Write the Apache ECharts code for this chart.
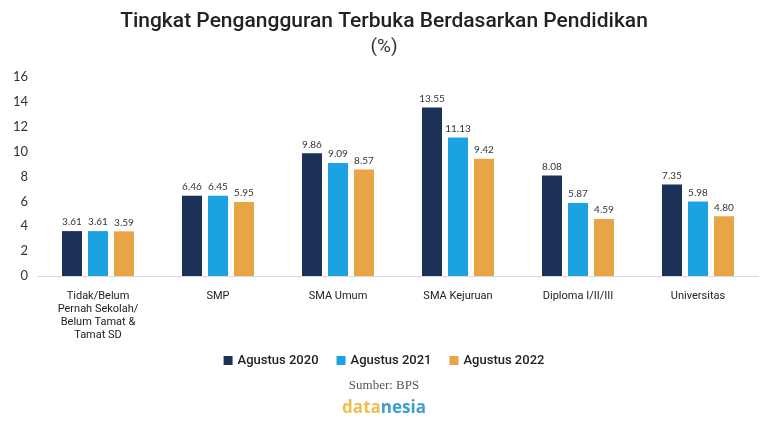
<!DOCTYPE html>
<html><head><meta charset="utf-8">
<script src="https://cdn.jsdelivr.net/npm/echarts@6/dist/echarts.min.js"></script>
<style>html,body{margin:0;padding:0;background:#fff}#c{width:768px;height:426px}</style>
</head><body><div id="c"></div>
<script>
const categories = ['Tidak/Belum\nPernah Sekolah/\nBelum Tamat &\nTamat SD','SMP','SMA Umum','SMA Kejuruan','Diploma I/II/III','Universitas'];
const seriesNames = ['Agustus 2020','Agustus 2021','Agustus 2022'];
const ags2020 = [3.61, 6.46, 9.86, 13.55, 8.08, 7.35];
const ags2021 = [3.61, 6.45, 9.09, 11.13, 5.87, 5.98];
const ags2022 = [3.59, 5.95, 8.57, 9.42, 4.59, 4.80];
const colors = ['#1b3157', '#1ba3e1', '#e9a445'];
const chart = echarts.init(document.getElementById('c'));
const mk = (name, data, color) => ({
  name, type: 'bar', data, barWidth: 20, barGap: '30%',
  itemStyle: {color},
  label: {show: true, position: 'top', distance: 4, fontSize: 10, color: '#333', fontFamily: 'Lato',
    formatter: p => p.value.toFixed(2)}
});
chart.setOption({
  animation: false,
  title: [{
    text: 'Tingkat Pengangguran Terbuka Berdasarkan Pendidikan', left: 'center', top: 6,
    textStyle: {fontFamily: 'Roboto', fontWeight: 500, fontSize: 21, color: '#222'}
  },{
    text: '(%)', left: 'center', top: 33,
    textStyle: {fontFamily: 'Roboto', fontWeight: 'normal', fontSize: 19, color: '#333'}
  },{
    text: 'Sumber: BPS', left: 'center', top: 374,
    textStyle: {fontFamily: 'Liberation Serif', fontWeight: 'normal', fontSize: 13, color: '#555'}
  },{
    text: '{a|data}{b|nesia}', left: 'center', top: 395,
    textStyle: {rich: {
      a: {fontFamily: 'Open Sans', fontWeight: 'bold', fontSize: 17, color: '#eac14f'},
      b: {fontFamily: 'Open Sans', fontWeight: 'bold', fontSize: 17, color: '#3c9fcc'}
    }}
  }],
  legend: {
    data: seriesNames, top: 349, left: 'center', itemWidth: 9, itemHeight: 9, itemGap: 18,
    icon: 'rect',
    textStyle: {fontFamily: 'Roboto', fontWeight: 500, fontSize: 13, color: '#222'}
  },
  grid: {left: 38, right: 10, top: 77, bottom: 150, containLabel: false},
  xAxis: {
    type: 'category', data: categories,
    axisLine: {lineStyle: {color: '#d9d9d9'}},
    axisTick: {show: false},
    axisLabel: {interval: 0, fontFamily: 'Roboto', fontSize: 11, color: '#222', lineHeight: 13, margin: 14}
  },
  yAxis: {
    type: 'value', min: 0, max: 16, interval: 2,
    splitLine: {show: false},
    axisLabel: {fontFamily: 'Lato', fontSize: 13, color: '#333', margin: 10, align: 'right'},
    axisLine: {show: false}, axisTick: {show: false}
  },
  series: [mk(seriesNames[0], ags2020, colors[0]), mk(seriesNames[1], ags2021, colors[1]), mk(seriesNames[2], ags2022, colors[2])]
});
</script></body></html>
